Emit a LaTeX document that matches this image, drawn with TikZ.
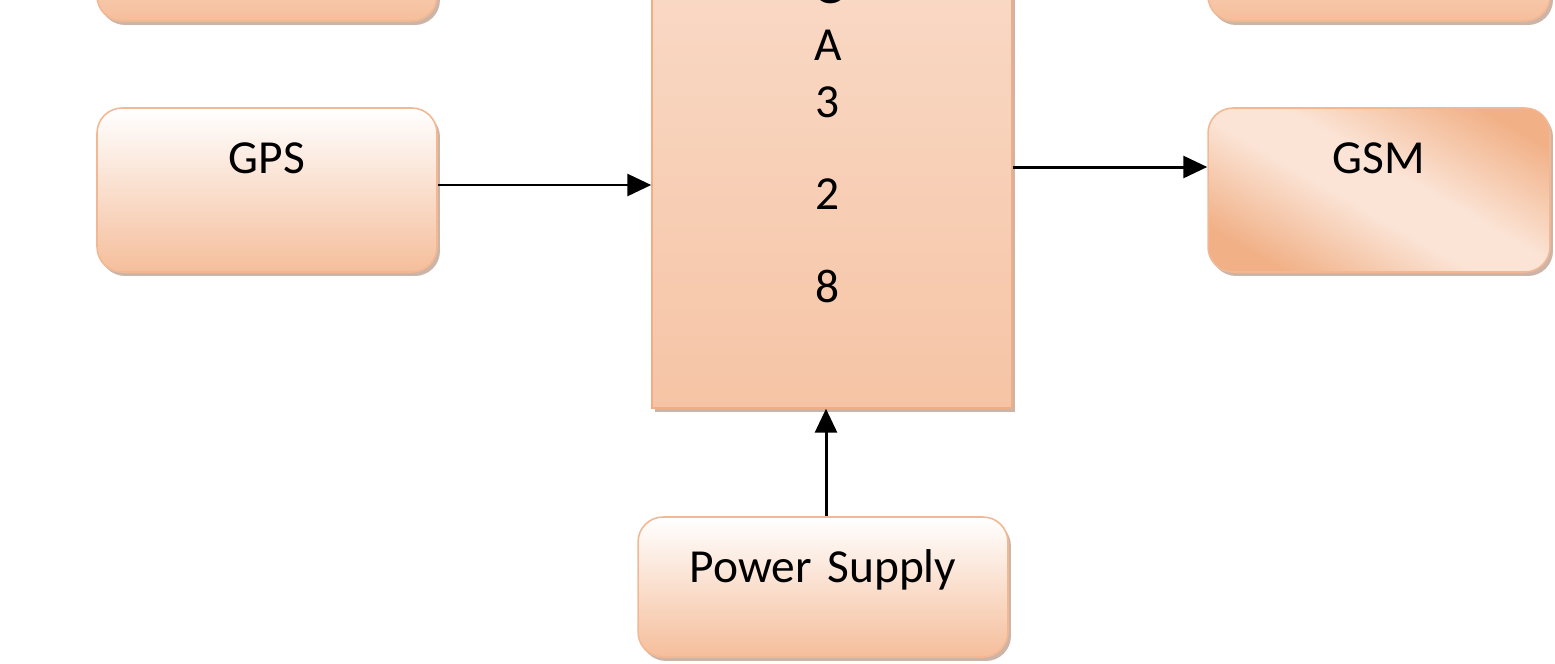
\documentclass[tikz,border=0pt]{standalone}
\usepackage{fontspec}
\setmainfont{Carlito}
\usetikzlibrary{shadows,arrows.meta,calc}
\definecolor{peach}{HTML}{F5BE9B}
\definecolor{boxline}{HTML}{F2B893}
\definecolor{mcutop}{HTML}{FBE6DA}
\definecolor{mcubot}{HTML}{F6C4A5}
\definecolor{mculine}{HTML}{F1AE86}
\definecolor{gsmdark}{HTML}{F1B086}
\definecolor{gsmlight}{HTML}{FBE4D6}
\definecolor{shadowc}{HTML}{9A6A50}
\pgfdeclarehorizontalshading{gsmshade}{100bp}{color(0bp)=(gsmdark); color(24bp)=(gsmdark); color(45bp)=(gsmlight); color(55bp)=(gsmlight); color(77bp)=(gsmdark); color(100bp)=(gsmdark)}
\begin{document}
\begin{tikzpicture}[x=0.02cm,y=-0.02cm,
  font=\fontsize{27}{32}\selectfont,
  shad/.style={drop shadow={shadow xshift=0.06cm, shadow yshift=-0.08cm, fill=shadowc, opacity=0.5}},
  rbox/.style={draw=boxline, line width=0.9pt, rounded corners=0.5cm, top color=white, bottom color=peach, inner sep=0pt, align=center, shad},
  gsmbox/.style={draw=boxline, line width=0.9pt, rounded corners=0.5cm, shading=gsmshade, shading angle=60, inner sep=0pt, align=center, shad},
  mcubox/.style={draw=mculine, line width=0.9pt, top color=mcutop, bottom color=mcubot, inner sep=0pt, shad},
  lett/.style={inner sep=0pt},
  arr/.style={line width=1.7pt, -{Triangle[length=0.48cm,width=0.44cm]}}]
\useasboundingbox (0,0) rectangle (1555,663);
% top boxes (cut off)
\node[rbox, minimum width=6.8cm, minimum height=3.28cm] (tl) at (267,-61) {};
\node[rbox, minimum width=6.84cm, minimum height=3.28cm] (tr) at (1379,-61) {};
% GPS
\node[rbox, text width=6.8cm, text height=1.3cm, text depth=1.98cm] (gps) at (267,190) {GPS};
% GSM
\node[gsmbox, text width=6.84cm, text height=1.3cm, text depth=1.98cm] (gsm) at (1379,190) {GSM};
% MCU
\node[mcubox, minimum width=7.2cm, minimum height=14.16cm] (mcu) at (832,54) {};
\node[lett] (l1) at (828,-12) {G};
\node[lett] (l2) at (828,45) {A};
\node[lett] (l3) at (828,102) {3};
\node[lett] (l4) at (828,194) {2};
\node[lett] (l5) at (828,286) {8};
% Power supply
\node[rbox, text width=7.4cm, text height=1.3cm, text depth=1.5cm] (pwr) at (823,587) {Power Supply};
% arrows
\draw[arr] ([yshift=0.1cm]gps.east) -- ([yshift=0.1cm]gps.east -| mcu.west);
\draw[arr] ([yshift=0.46cm]gsm.west -| mcu.east) -- ([yshift=0.46cm]gsm.west);
\draw[arr] ([xshift=0.06cm]pwr.north) -- ([xshift=0.06cm]pwr.north |- mcu.south);
\end{tikzpicture}
\end{document}
